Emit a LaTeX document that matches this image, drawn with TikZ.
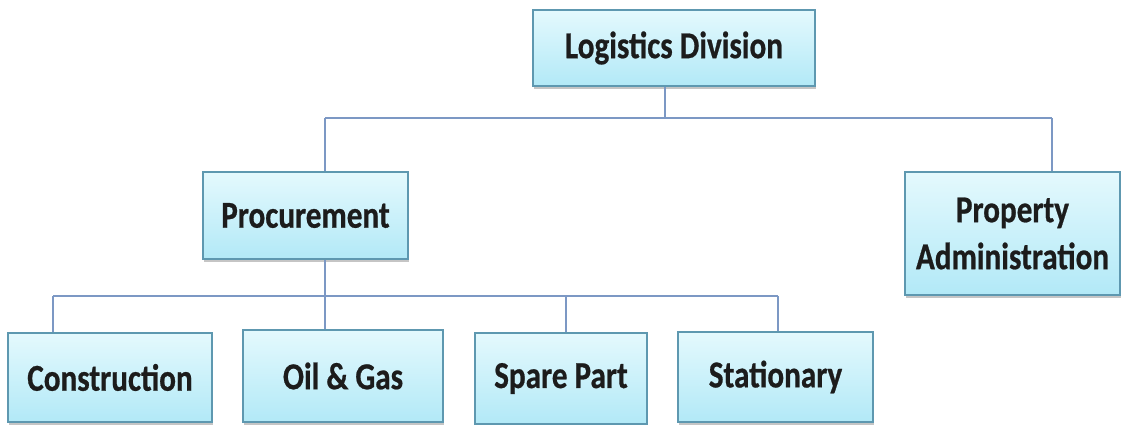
\documentclass[tikz,border=0pt]{standalone}
\usepackage{fontspec}
\newfontfamily\boxfont{Carlito}[FakeStretch=0.82, FakeBold=0.6]
\usetikzlibrary{shadows}
\definecolor{boxedge}{HTML}{5E98B0}
\definecolor{boxtop}{HTML}{E4F9FD}
\definecolor{boxbottom}{HTML}{B2E9F7}
\definecolor{wire}{HTML}{7C98C4}
\definecolor{ink}{HTML}{1C1C1C}
\tikzset{
  unitbox/.style={draw=boxedge, line width=1.4pt, top color=boxtop, bottom color=boxbottom,
    text=ink, align=center, inner sep=0pt,
    font=\boxfont\bfseries\fontsize{38}{47}\selectfont,
    drop shadow={shadow xshift=1pt, shadow yshift=-3pt, fill=black!45, opacity=0.5}},
  wireline/.style={draw=wire, line width=1.5pt}
}
\begin{document}
\begin{tikzpicture}[x=1pt,y=-1pt]
\useasboundingbox (0,0) rectangle (1123,424);
% units
\node[unitbox, minimum width=282pt, minimum height=76pt] (log) at (674,48) {Logistics Division};
\node[unitbox, minimum width=205pt, minimum height=87pt] (proc) at (305.5,215.5) {Procurement};
\node[unitbox, minimum width=215pt, minimum height=123pt] (prop) at (1012.5,233.5) {Property\\Administration};
\node[unitbox, minimum width=204pt, minimum height=89pt] (cons) at (110,377.5) {Construction};
\node[unitbox, minimum width=200pt, minimum height=92pt] (oil) at (343,376) {Oil \& Gas};
\node[unitbox, minimum width=172pt, minimum height=91pt] (spare) at (561,378.5) {Spare Part};
\node[unitbox, minimum width=195pt, minimum height=90pt] (stat) at (775.5,377) {Stationary};
% upper bus
\coordinate (tj) at (665,118);
\coordinate (tl) at (325,118);
\coordinate (tr) at (1052,118);
\draw[wireline] (tj |- log.south) -- (tj);
\draw[wireline] (tl) -- (tr);
\draw[wireline] (tl) -- (tl |- proc.north);
\draw[wireline] (tr) -- (tr |- prop.north);
% lower bus
\coordinate (bl) at (53,296);
\coordinate (bo) at (325,296);
\coordinate (bs) at (566,296);
\coordinate (br) at (778,296);
\draw[wireline] (bo |- proc.south) -- (bo);
\draw[wireline] (bl) -- (br);
\draw[wireline] (bl) -- (bl |- cons.north);
\draw[wireline] (bo) -- (bo |- oil.north);
\draw[wireline] (bs) -- (bs |- spare.north);
\draw[wireline] (br) -- (br |- stat.north);
\end{tikzpicture}
\end{document}
